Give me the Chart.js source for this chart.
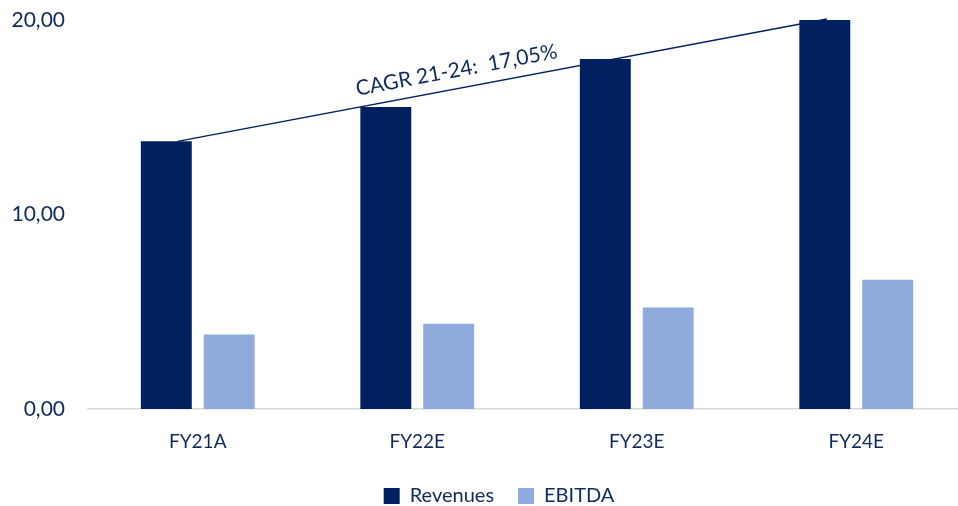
<!DOCTYPE html>
<html>
<head>
<meta charset="utf-8">
<script src="https://cdn.jsdelivr.net/npm/chart.js@4/dist/chart.umd.min.js"></script>
<style>
  html, body { margin: 0; padding: 0; background: #ffffff; overflow: hidden; }
  #wrap { width: 958px; height: 506px; overflow: hidden; position: relative; }
  canvas { display: block; }
</style>
</head>
<body>
<div id="wrap"><canvas id="c" width="966" height="516"></canvas></div>
<script>
const categories = ['FY21A', 'FY22E', 'FY23E', 'FY24E'];
const revenues = [13.76, 15.53, 18.00, 20.00];
const ebitda = [3.83, 4.38, 5.22, 6.64];
const yTicks = [0, 10, 20];
const cagrLabel = 'CAGR 21-24:  17,05%';

const NAVY = '#002060';
const LIGHT = '#8FAADC';
const TEXT = '#0f2a5c';
const FONT = 'Lato, "Open Sans", sans-serif';
const LEGEND_SHIFT = 16;

const cagrPlugin = {
  id: 'cagr',
  afterLayout(chart) {
    if (chart.legend) {
      chart.legend.left += LEGEND_SHIFT;
      chart.legend.right += LEGEND_SHIFT;
    }
  },
  afterDatasetsDraw(chart) {
    const meta = chart.getDatasetMeta(0);
    const first = meta.data[0];
    const last = meta.data[meta.data.length - 1];
    const x0 = first.x + first.width * 0.22;
    const y0 = first.y;
    const x1 = last.x + last.width * 0.04;
    const y1 = last.y - 1;
    const ctx = chart.ctx;
    ctx.save();
    ctx.strokeStyle = NAVY;
    ctx.lineWidth = 1.5;
    ctx.beginPath();
    ctx.moveTo(x0, y0);
    ctx.lineTo(x1, y1);
    ctx.stroke();
    const ang = Math.atan2(y1 - y0, x1 - x0);
    const t = 0.28;
    const px = x0 + (x1 - x0) * t;
    const py = y0 + (y1 - y0) * t;
    const off = 11.5;
    const tx = px + Math.sin(ang) * off;
    const ty = py - Math.cos(ang) * off;
    ctx.translate(tx, ty);
    ctx.rotate(ang);
    ctx.fillStyle = TEXT;
    ctx.font = '21px ' + FONT;
    ctx.textAlign = 'left';
    ctx.textBaseline = 'alphabetic';
    ctx.fillText(cagrLabel, 0, 0);
    ctx.restore();
  }
};

new Chart(document.getElementById('c'), {
  type: 'bar',
  data: {
    labels: categories,
    datasets: [
      { label: 'Revenues', data: revenues, backgroundColor: NAVY, categoryPercentage: 0.573, barPercentage: 0.81 },
      { label: 'EBITDA', data: ebitda, backgroundColor: LIGHT, categoryPercentage: 0.573, barPercentage: 0.81 }
    ]
  },
  options: {
    responsive: false,
    animation: false,
    devicePixelRatio: 1,
    layout: { padding: { left: 0, right: 0, top: 20, bottom: 0 } },
    plugins: {
      legend: {
        position: 'bottom',
        labels: {
          color: TEXT,
          font: { family: FONT, size: 20 },
          boxWidth: 16,
          boxHeight: 16,
          padding: 24
        }
      },
      tooltip: { enabled: false }
    },
    scales: {
      x: {
        grid: { display: false },
        border: { display: true, color: '#d9d9d9', width: 1.5 },
        ticks: { color: TEXT, font: { family: FONT, size: 19 }, padding: 13 },
        afterFit(scale) { scale.height = 53; }
      },
      y: {
        min: 0,
        max: 20,
        afterBuildTicks(scale) { scale.ticks = yTicks.map(v => ({ value: v })); },
        grid: { display: false, tickLength: 23 },
        border: { display: false },
        ticks: {
          color: TEXT,
          font: { family: FONT, size: 21 },
          padding: 0,
          callback: v => v.toFixed(2).replace('.', ',')
        },
        afterFit(scale) { scale.width = 88; }
      }
    }
  },
  plugins: [cagrPlugin]
});
</script>
</body>
</html>
